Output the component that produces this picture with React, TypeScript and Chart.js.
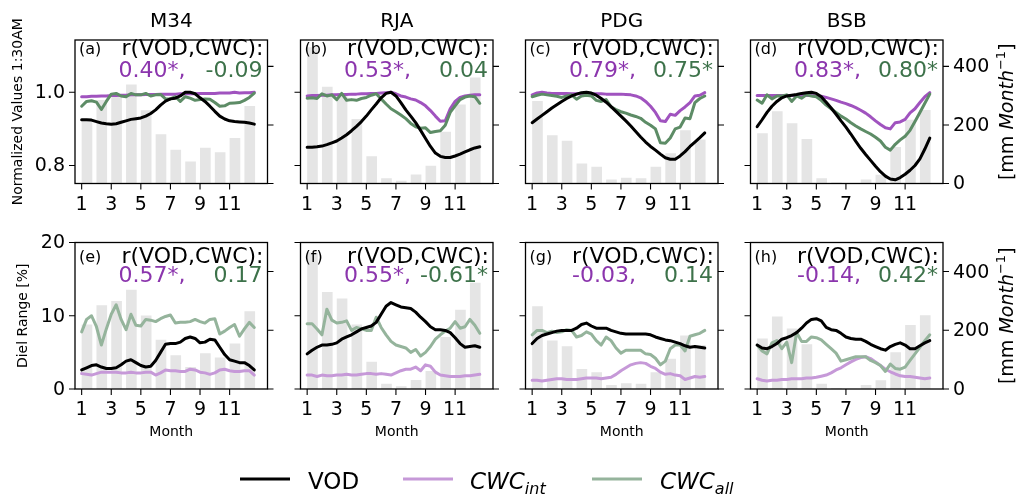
import React, { useEffect, useRef } from 'react';
import { Chart, registerables } from 'chart.js';

Chart.register(...registerables);

// ---- figure geometry -------------------------------------------------------
const W = 1020;
const H = 499;
const COL_LEFT = [75, 300.5, 525.5, 750.5];
const PANEL_W = 192.5;
const ROW_TOP = [40, 242.5];
const ROW_BOTTOM = [183.5, 389];

const X_MIN = 0.55;
const X_MAX = 13.56;
const NORM_MIN = 0.7508;
const NORM_MAX = 1.1429;
const DIEL_MIN = 0;
const DIEL_MAX = 20;
const PRECIP_MAX = [490, 499];

// ---- styling ----------------------------------------------------------------
const FAMILY = '"DejaVu Sans", "Liberation Sans", sans-serif';
const INK = '#000000';
const BAR_COLOR = '#e5e5e5';
const BAR_W = 0.72;
const LINE_W = 3.0;
const FRAME_W = 1.3;
const TICK_LEN = 6;
const TICK_W = 1.1;
const TOP_COLORS = { vod: '#000000', cwcInt: '#a053bf', cwcAll: '#5d8c66' };
const DIEL_COLORS = { vod: '#000000', cwcInt: '#c699d8', cwcAll: '#95b49c' };
const TEXT_PURPLE = '#8b35ad';
const TEXT_GREEN = '#3d724a';

const TITLE_SIZE = 20;
const TICK_SIZE = 19;
const ANNOT_SIZE = 22;
const LETTER_SIZE = 16;
const AXIS_LABEL_SIZE = 14;
const RIGHT_LABEL_SIZE = 19;
const LEGEND_SIZE = 23;

// ---- data -------------------------------------------------------------------
const SITES = ['M34', 'RJA', 'PDG', 'BSB'];
const LETTERS_NORM = ['(a)', '(b)', '(c)', '(d)'];
const LETTERS_DIEL = ['(e)', '(f)', '(g)', '(h)'];
const MONTH_TICKS = [1, 3, 5, 7, 9, 11];
const NORM_TICKS = [0.8, 1.0];
const DIEL_TICKS = [0, 10, 20];
const PRECIP_TICKS = [0, 200, 400];

const BAR_MONTHS = [1, 2, 3, 4, 5, 6, 7, 8, 9, 10, 11, 12];
const DEKAD_MONTHS = [
  1, 1.333, 1.667, 2, 2.333, 2.667, 3, 3.333, 3.667, 4, 4.333, 4.667,
  5, 5.333, 5.667, 6, 6.333, 6.667, 7, 7.333, 7.667, 8, 8.333, 8.667,
  9, 9.333, 9.667, 10, 10.333, 10.667, 11, 11.333, 11.667, 12, 12.333, 12.667,
];

// monthly precipitation [mm month^-1]
const PRECIP_M34 = [220, 285, 300, 338, 250, 168, 115, 75, 122, 107, 155, 265];
const PRECIP_RJA = [465, 330, 308, 220, 93, 18, 9, 31, 61, 177, 270, 362];
const PRECIP_PDG = [282, 165, 146, 68, 57, 14, 20, 18, 57, 103, 182, 150];
const PRECIP_BSB = [172, 247, 206, 152, 18, 3, 1, 14, 30, 125, 218, 251];

// normalized values at 1:30AM
const VOD_NORM_M34 = [0.925, 0.925, 0.924, 0.920, 0.916, 0.914, 0.913, 0.914, 0.918, 0.922, 0.926, 0.928, 0.930, 0.935, 0.942, 0.952, 0.965, 0.976, 0.982, 0.984, 0.990, 1.000, 1.000, 0.996, 0.985, 0.975, 0.962, 0.948, 0.935, 0.927, 0.922, 0.920, 0.919, 0.918, 0.916, 0.913];
const CWC_INT_NORM_M34 = [0.988, 0.988, 0.989, 0.989, 0.990, 0.990, 0.991, 0.991, 0.992, 0.992, 0.993, 0.993, 0.993, 0.994, 0.994, 0.994, 0.995, 0.995, 0.995, 0.995, 0.996, 0.996, 0.996, 0.996, 0.997, 0.997, 0.997, 0.997, 0.998, 0.998, 0.998, 1.000, 0.998, 0.999, 0.999, 1.000];
const CWC_ALL_NORM_M34 = [0.962, 0.975, 0.977, 0.973, 0.953, 0.975, 0.995, 0.997, 0.990, 0.988, 0.997, 0.993, 0.993, 0.997, 0.990, 0.993, 0.994, 0.982, 0.982, 0.988, 0.975, 0.988, 0.984, 0.978, 0.980, 0.982, 0.981, 0.972, 0.962, 0.963, 0.970, 0.971, 0.972, 0.978, 0.986, 0.998];

const VOD_NORM_RJA = [0.850, 0.850, 0.851, 0.853, 0.857, 0.862, 0.867, 0.875, 0.884, 0.895, 0.907, 0.920, 0.935, 0.952, 0.968, 0.985, 0.997, 1.000, 0.990, 0.972, 0.952, 0.935, 0.917, 0.896, 0.874, 0.852, 0.834, 0.825, 0.822, 0.822, 0.826, 0.831, 0.837, 0.843, 0.848, 0.851];
const CWC_INT_NORM_RJA = [0.990, 0.991, 0.991, 0.992, 0.992, 0.993, 0.993, 0.994, 0.994, 0.995, 0.995, 0.996, 0.996, 0.997, 0.997, 0.998, 0.999, 1.000, 0.996, 0.990, 0.987, 0.982, 0.979, 0.972, 0.963, 0.950, 0.935, 0.921, 0.922, 0.955, 0.975, 0.986, 0.990, 0.992, 0.993, 0.993];
const CWC_ALL_NORM_RJA = [0.984, 0.985, 0.983, 0.996, 0.990, 0.993, 0.980, 0.997, 0.978, 0.980, 0.978, 0.983, 0.986, 0.992, 0.996, 0.982, 0.968, 0.955, 0.947, 0.938, 0.928, 0.915, 0.906, 0.902, 0.903, 0.890, 0.893, 0.895, 0.910, 0.945, 0.963, 0.980, 0.987, 0.990, 0.988, 0.970];

const VOD_NORM_PDG = [0.917, 0.927, 0.937, 0.947, 0.957, 0.966, 0.975, 0.983, 0.990, 0.995, 0.999, 1.000, 0.998, 0.992, 0.983, 0.973, 0.961, 0.948, 0.935, 0.922, 0.908, 0.893, 0.878, 0.864, 0.852, 0.842, 0.831, 0.821, 0.817, 0.817, 0.826, 0.838, 0.852, 0.864, 0.876, 0.889];
const CWC_INT_NORM_PDG = [0.993, 0.998, 1.000, 0.998, 0.997, 0.997, 0.997, 0.997, 0.996, 0.996, 0.996, 0.996, 0.996, 0.996, 0.996, 0.995, 0.995, 0.995, 0.995, 0.994, 0.993, 0.990, 0.985, 0.975, 0.962, 0.945, 0.922, 0.920, 0.940, 0.937, 0.950, 0.960, 0.972, 0.990, 0.992, 0.999];
const CWC_ALL_NORM_PDG = [0.988, 0.992, 0.995, 0.993, 0.991, 0.989, 0.986, 0.990, 0.993, 0.981, 0.990, 0.992, 0.990, 0.978, 0.975, 0.980, 0.960, 0.953, 0.947, 0.943, 0.938, 0.934, 0.929, 0.918, 0.910, 0.900, 0.862, 0.861, 0.875, 0.900, 0.905, 0.930, 0.928, 0.972, 0.983, 0.990];

const VOD_NORM_BSB = [0.906, 0.925, 0.945, 0.962, 0.975, 0.985, 0.990, 0.992, 0.994, 0.997, 0.999, 1.000, 0.997, 0.988, 0.973, 0.957, 0.940, 0.922, 0.905, 0.886, 0.866, 0.847, 0.830, 0.814, 0.798, 0.783, 0.771, 0.763, 0.761, 0.767, 0.776, 0.787, 0.800, 0.818, 0.845, 0.875];
const CWC_INT_NORM_BSB = [0.991, 0.991, 0.991, 0.991, 0.991, 0.991, 0.991, 0.991, 0.991, 0.991, 0.991, 0.991, 0.990, 0.989, 0.986, 0.982, 0.978, 0.973, 0.969, 0.964, 0.958, 0.951, 0.943, 0.933, 0.922, 0.912, 0.903, 0.900, 0.917, 0.919, 0.926, 0.944, 0.955, 0.972, 0.988, 0.999];
const CWC_ALL_NORM_BSB = [0.979, 0.970, 0.993, 0.982, 0.990, 0.990, 0.993, 0.975, 0.990, 0.984, 0.993, 0.990, 0.988, 0.978, 0.965, 0.955, 0.945, 0.935, 0.927, 0.917, 0.908, 0.900, 0.893, 0.886, 0.877, 0.867, 0.850, 0.842, 0.858, 0.870, 0.880, 0.896, 0.920, 0.945, 0.970, 0.995];

// diel range [%]
const VOD_DIEL_M34 = [2.6, 2.9, 3.2, 3.3, 3.0, 2.8, 2.8, 2.9, 3.3, 3.8, 4.0, 3.6, 3.2, 3.0, 3.1, 3.9, 5.0, 6.1, 6.2, 6.2, 6.4, 6.9, 7.1, 6.9, 6.3, 6.4, 6.8, 6.7, 5.7, 4.7, 4.0, 3.8, 3.6, 3.6, 3.2, 2.6];
const CWC_INT_DIEL_M34 = [2.1, 2.0, 1.9, 2.1, 2.3, 2.3, 2.3, 2.3, 2.2, 2.2, 2.3, 2.2, 2.2, 2.3, 2.3, 1.9, 2.2, 2.6, 2.5, 2.5, 2.4, 2.4, 2.7, 2.6, 2.3, 2.2, 2.0, 2.2, 2.6, 2.7, 2.5, 2.4, 2.4, 2.5, 2.5, 1.9];
const CWC_ALL_DIEL_M34 = [7.8, 9.5, 10.0, 8.5, 6.0, 8.2, 10.2, 11.5, 9.5, 8.1, 10.2, 8.7, 8.6, 9.5, 9.4, 9.2, 9.6, 9.9, 10.1, 9.0, 9.1, 9.1, 9.2, 9.5, 9.2, 9.0, 9.5, 9.6, 7.5, 7.9, 8.4, 8.8, 7.2, 8.2, 9.1, 8.4];

const VOD_DIEL_RJA = [4.8, 5.3, 5.7, 6.0, 6.0, 6.1, 6.3, 6.8, 7.1, 7.4, 7.8, 8.2, 8.4, 8.6, 9.1, 10.2, 11.3, 11.8, 11.5, 11.2, 11.1, 11.0, 10.5, 9.8, 9.2, 8.5, 8.1, 8.1, 8.0, 7.7, 7.0, 6.2, 5.7, 5.8, 5.9, 5.7];
const CWC_INT_DIEL_RJA = [1.9, 1.9, 1.7, 1.9, 1.8, 1.8, 1.9, 1.9, 2.0, 1.9, 1.9, 2.0, 2.1, 2.1, 2.0, 2.1, 2.0, 1.9, 2.2, 2.5, 2.7, 2.7, 3.0, 2.5, 3.3, 3.1, 2.3, 1.9, 1.8, 1.7, 1.7, 1.7, 1.8, 1.8, 1.9, 2.0];
const CWC_ALL_DIEL_RJA = [8.9, 8.9, 8.2, 7.4, 10.9, 9.4, 9.0, 9.1, 9.3, 8.0, 8.4, 8.2, 8.0, 8.0, 9.8, 8.4, 7.4, 6.5, 6.0, 5.8, 5.6, 5.0, 5.4, 4.5, 5.0, 5.8, 6.8, 7.4, 7.9, 8.3, 9.2, 8.3, 8.5, 9.5, 8.7, 7.6];

const VOD_DIEL_PDG = [6.2, 6.9, 7.3, 7.5, 7.7, 7.9, 8.0, 8.0, 8.0, 8.3, 8.8, 9.0, 8.6, 8.3, 8.3, 8.3, 8.0, 7.8, 7.6, 7.5, 7.5, 7.5, 7.5, 7.5, 7.4, 7.1, 6.9, 6.7, 6.6, 6.4, 6.2, 5.9, 5.7, 5.8, 5.7, 5.6];
const CWC_INT_DIEL_PDG = [1.2, 1.2, 1.1, 1.2, 1.3, 1.4, 1.4, 1.3, 1.3, 1.3, 1.4, 1.5, 1.5, 1.5, 1.4, 1.5, 1.6, 2.0, 2.5, 2.9, 3.3, 3.5, 3.6, 3.5, 3.1, 2.8, 2.3, 2.0, 2.1, 1.9, 1.8, 1.3, 1.5, 1.7, 1.6, 1.7];
const CWC_ALL_DIEL_PDG = [7.4, 8.0, 8.0, 7.7, 7.9, 7.7, 7.8, 8.1, 8.0, 7.1, 7.3, 7.8, 7.5, 6.6, 6.0, 7.1, 6.6, 5.6, 4.9, 5.3, 5.3, 5.3, 5.3, 4.8, 4.7, 4.2, 3.3, 3.8, 5.5, 6.0, 6.0, 5.2, 7.2, 7.4, 7.6, 8.0];

const VOD_DIEL_BSB = [6.0, 5.6, 5.5, 5.8, 6.2, 6.8, 7.0, 7.3, 7.7, 8.3, 9.0, 9.5, 9.6, 9.3, 8.4, 8.1, 8.0, 7.6, 7.1, 6.9, 6.8, 6.8, 6.5, 6.1, 5.8, 5.5, 5.3, 5.8, 6.1, 6.3, 6.0, 5.5, 5.5, 5.9, 6.3, 6.6];
const CWC_INT_DIEL_BSB = [1.4, 1.2, 1.1, 1.2, 1.2, 1.3, 1.3, 1.4, 1.4, 1.4, 1.5, 1.5, 1.6, 1.75, 1.9, 2.2, 2.6, 2.9, 3.3, 3.7, 4.05, 4.3, 4.4, 4.15, 3.7, 3.2, 2.7, 2.35, 2.05, 1.8, 1.7, 1.7, 1.6, 1.5, 1.4, 1.5];
const CWC_ALL_DIEL_BSB = [6.0, 5.2, 4.8, 6.3, 6.6, 5.5, 6.4, 3.6, 7.7, 6.5, 6.5, 7.1, 7.0, 6.7, 6.1, 5.5, 4.9, 3.8, 4.0, 4.2, 4.4, 4.4, 4.4, 3.9, 3.6, 3.2, 2.4, 3.4, 2.8, 2.7, 3.0, 3.9, 4.8, 5.7, 6.6, 7.4];

// correlation labels r(VOD, CWC_int) and r(VOD, CWC_all)
const R_INT_NORM = ['0.40*,', '0.53*,', '0.79*,', '0.83*,'];
const R_ALL_NORM = ['-0.09', '0.04', '0.75*', '0.80*'];
const R_INT_DIEL = ['0.57*,', '0.55*,', '-0.03,', '-0.14,'];
const R_ALL_DIEL = ['0.17', '-0.61*', '0.14', '0.42*'];

const PRECIP = [PRECIP_M34, PRECIP_RJA, PRECIP_PDG, PRECIP_BSB];
const VOD_NORM = [VOD_NORM_M34, VOD_NORM_RJA, VOD_NORM_PDG, VOD_NORM_BSB];
const CWC_INT_NORM = [CWC_INT_NORM_M34, CWC_INT_NORM_RJA, CWC_INT_NORM_PDG, CWC_INT_NORM_BSB];
const CWC_ALL_NORM = [CWC_ALL_NORM_M34, CWC_ALL_NORM_RJA, CWC_ALL_NORM_PDG, CWC_ALL_NORM_BSB];
const VOD_DIEL = [VOD_DIEL_M34, VOD_DIEL_RJA, VOD_DIEL_PDG, VOD_DIEL_BSB];
const CWC_INT_DIEL = [CWC_INT_DIEL_M34, CWC_INT_DIEL_RJA, CWC_INT_DIEL_PDG, CWC_INT_DIEL_BSB];
const CWC_ALL_DIEL = [CWC_ALL_DIEL_M34, CWC_ALL_DIEL_RJA, CWC_ALL_DIEL_PDG, CWC_ALL_DIEL_BSB];

type PanelSpec = {
  row: number;
  col: number;
  site: string;
  letter: string;
  vod: number[];
  cwcInt: number[];
  cwcAll: number[];
  precip: number[];
  rInt: string;
  rAll: string;
};

const PANELS: PanelSpec[] = [];
for (let row = 0; row < 2; row++) {
  for (let col = 0; col < 4; col++) {
    PANELS.push({
      row,
      col,
      site: SITES[col],
      letter: row === 0 ? LETTERS_NORM[col] : LETTERS_DIEL[col],
      vod: row === 0 ? VOD_NORM[col] : VOD_DIEL[col],
      cwcInt: row === 0 ? CWC_INT_NORM[col] : CWC_INT_DIEL[col],
      cwcAll: row === 0 ? CWC_ALL_NORM[col] : CWC_ALL_DIEL[col],
      precip: PRECIP[col],
      rInt: row === 0 ? R_INT_NORM[col] : R_INT_DIEL[col],
      rAll: row === 0 ? R_ALL_NORM[col] : R_ALL_DIEL[col],
    });
  }
}

const font = (size: number, style = '') => `${style} ${size}px ${FAMILY}`.trim();

type Run = { t: string; size: number; italic?: boolean; rise?: number };

// draws a sequence of text runs at (x, y), optionally rotated
function drawRuns(ctx: CanvasRenderingContext2D, runs: Run[], x: number, y: number, angle: number, align: 'center' | 'left') {
  ctx.save();
  ctx.translate(x, y);
  if (angle) ctx.rotate(angle);
  ctx.textAlign = 'left';
  ctx.textBaseline = 'alphabetic';
  let total = 0;
  for (const r of runs) {
    ctx.font = font(r.size, r.italic ? 'italic' : '');
    total += ctx.measureText(r.t).width;
  }
  let cx = align === 'center' ? -total / 2 : 0;
  for (const r of runs) {
    ctx.font = font(r.size, r.italic ? 'italic' : '');
    ctx.fillText(r.t, cx, -(r.rise || 0));
    cx += ctx.measureText(r.t).width;
  }
  ctx.restore();
}

const panelDecor = {
  id: 'panelDecor',
  afterDraw(chart: any, _args: any, o: any) {
    const ctx: CanvasRenderingContext2D = chart.ctx;
    const a = chart.chartArea;
    const sx = chart.scales.x;
    const sy = chart.scales.y;
    const sy1 = chart.scales.y1;
    const row: number = o.row;
    const col: number = o.col;
    const leftTicks = row === 0 ? NORM_TICKS : DIEL_TICKS;
    const midX = (a.left + a.right) / 2;
    const midY = (a.top + a.bottom) / 2;

    ctx.save();
    // axes frame
    ctx.strokeStyle = INK;
    ctx.lineWidth = FRAME_W;
    ctx.strokeRect(a.left, a.top, a.right - a.left, a.bottom - a.top);

    // tick marks
    ctx.lineWidth = TICK_W;
    ctx.beginPath();
    for (const m of MONTH_TICKS) {
      const px = sx.getPixelForValue(m);
      ctx.moveTo(px, a.bottom);
      ctx.lineTo(px, a.bottom + TICK_LEN);
    }
    for (const v of leftTicks) {
      const py = sy.getPixelForValue(v);
      ctx.moveTo(a.left - TICK_LEN, py);
      ctx.lineTo(a.left, py);
    }
    for (const v of PRECIP_TICKS) {
      const py = sy1.getPixelForValue(v);
      ctx.moveTo(a.right, py);
      ctx.lineTo(a.right + TICK_LEN, py);
    }
    ctx.stroke();

    // tick labels
    ctx.fillStyle = INK;
    ctx.font = font(TICK_SIZE);
    ctx.textAlign = 'center';
    ctx.textBaseline = 'alphabetic';
    for (const m of MONTH_TICKS) {
      ctx.fillText(String(m), sx.getPixelForValue(m), a.bottom + 26);
    }
    ctx.textBaseline = 'middle';
    if (col === 0) {
      ctx.textAlign = 'right';
      for (const v of leftTicks) {
        const lbl = row === 0 ? v.toFixed(1) : String(v);
        ctx.fillText(lbl, a.left - TICK_LEN - 4, sy.getPixelForValue(v) + 1);
      }
    }
    if (col === 3) {
      ctx.textAlign = 'left';
      for (const v of PRECIP_TICKS) {
        ctx.fillText(String(v), a.right + TICK_LEN + 4, sy1.getPixelForValue(v) + 1);
      }
    }

    // titles and axis labels
    ctx.textBaseline = 'alphabetic';
    if (row === 0) {
      ctx.textAlign = 'center';
      ctx.font = font(TITLE_SIZE);
      ctx.fillText(o.site, midX, a.top - 13);
    } else {
      ctx.textAlign = 'center';
      ctx.font = font(AXIS_LABEL_SIZE);
      ctx.fillText('Month', midX, a.bottom + 47);
    }
    if (col === 0) {
      const label = row === 0 ? 'Normalized Values 1:30AM' : 'Diel Range [%]';
      const bx = row === 0 ? 21.5 : 27;
      drawRuns(ctx, [{ t: label, size: AXIS_LABEL_SIZE }], bx, midY, -Math.PI / 2, 'center');
    }
    if (col === 3) {
      drawRuns(
        ctx,
        [
          { t: '[mm ', size: RIGHT_LABEL_SIZE },
          { t: 'Month', size: RIGHT_LABEL_SIZE, italic: true },
          { t: '\u22121', size: 13, rise: 8 },
          { t: ']', size: RIGHT_LABEL_SIZE },
        ],
        1013,
        midY,
        -Math.PI / 2,
        'center',
      );
    }

    // panel letter and correlation annotation
    const base1 = row === 0 ? a.top + 15 : a.top + 20;
    const base2 = row === 0 ? a.top + 36.5 : a.top + 39.5;
    ctx.font = font(LETTER_SIZE);
    ctx.textAlign = 'left';
    ctx.fillStyle = INK;
    ctx.fillText(o.letter, a.left + 4, base1 - 1);
    ctx.font = font(ANNOT_SIZE);
    ctx.textAlign = 'right';
    ctx.fillText('r(VOD,CWC):', a.right - 4, base1);
    ctx.fillStyle = TEXT_PURPLE;
    ctx.fillText(o.rInt, a.right - 82, base2);
    ctx.fillStyle = TEXT_GREEN;
    ctx.fillText(o.rAll, a.right - 5, base2);

    // figure legend
    if (o.legend) {
      const ly = 479;
      const items = [
        { color: DIEL_COLORS.vod, x0: 240, x1: 290, tx: 308, runs: [{ t: 'VOD', size: LEGEND_SIZE }] },
        { color: DIEL_COLORS.cwcInt, x0: 403, x1: 453, tx: 470, runs: [{ t: 'CWC', size: LEGEND_SIZE, italic: true }, { t: 'int', size: 16, italic: true, rise: -5 }] },
        { color: DIEL_COLORS.cwcAll, x0: 592, x1: 642, tx: 660, runs: [{ t: 'CWC', size: LEGEND_SIZE, italic: true }, { t: 'all', size: 16, italic: true, rise: -5 }] },
      ];
      for (const it of items) {
        ctx.strokeStyle = it.color;
        ctx.lineWidth = 3.2;
        ctx.beginPath();
        ctx.moveTo(it.x0, ly);
        ctx.lineTo(it.x1, ly);
        ctx.stroke();
        ctx.fillStyle = INK;
        drawRuns(ctx, it.runs, it.tx, 489, 0, 'left');
      }
    }
    ctx.restore();
  },
};

function Panel({ spec }: { spec: PanelSpec }) {
  const ref = useRef<HTMLCanvasElement>(null);

  useEffect(() => {
    const canvas = ref.current;
    if (!canvas) return;
    const { row, col } = spec;
    const left = COL_LEFT[col];
    const right = left + PANEL_W;
    const top = ROW_TOP[row];
    const bottom = ROW_BOTTOM[row];
    const pal = row === 0 ? TOP_COLORS : DIEL_COLORS;
    const points = (ys: number[]) => ys.map((y, i) => ({ x: DEKAD_MONTHS[i], y }));
    const lineStyle = {
      type: 'line' as const,
      yAxisID: 'y',
      borderWidth: LINE_W,
      pointRadius: 0,
      tension: 0,
      fill: false,
      borderJoinStyle: 'round' as const,
      borderCapStyle: 'round' as const,
    };

    const chart = new Chart(canvas, {
      type: 'line',
      data: {
        datasets: [
          { ...lineStyle, label: 'VOD', data: points(spec.vod), borderColor: pal.vod, order: 0 },
          { ...lineStyle, label: 'CWC_all', data: points(spec.cwcAll), borderColor: pal.cwcAll, order: 1 },
          { ...lineStyle, label: 'CWC_int', data: points(spec.cwcInt), borderColor: pal.cwcInt, order: 2 },
          {
            type: 'bar',
            label: 'Precipitation',
            yAxisID: 'y1',
            data: spec.precip.map((p, i) => ({ x: BAR_MONTHS[i] + BAR_W / 2, y: p })),
            backgroundColor: BAR_COLOR,
            borderWidth: 0,
            categoryPercentage: BAR_W,
            barPercentage: 1,
            order: 3,
          } as any,
        ],
      },
      options: {
        responsive: false,
        animation: false,
        events: [],
        layout: { padding: { left, top, right: W - right, bottom: H - bottom } },
        plugins: {
          legend: { display: false },
          tooltip: { enabled: false },
          panelDecor: {
            row,
            col,
            site: spec.site,
            letter: spec.letter,
            rInt: spec.rInt,
            rAll: spec.rAll,
            legend: row === 1 && col === 3,
          },
        } as any,
        scales: {
          x: { type: 'linear', min: X_MIN, max: X_MAX, offset: false, display: false },
          y: {
            type: 'linear',
            min: row === 0 ? NORM_MIN : DIEL_MIN,
            max: row === 0 ? NORM_MAX : DIEL_MAX,
            display: false,
          },
          y1: { type: 'linear', position: 'right', min: 0, max: PRECIP_MAX[row], display: false },
        },
      },
      plugins: [panelDecor],
    });
    return () => chart.destroy();
  }, [spec]);

  return (
    <canvas
      ref={ref}
      width={W}
      height={H}
      style={{ position: 'absolute', left: 0, top: 0, width: W, height: H }}
    />
  );
}

export default function App() {
  return (
    <div style={{ position: 'absolute', left: 0, top: 0, width: W, height: H, background: '#ffffff', overflow: 'hidden' }}>
      {PANELS.map((p) => (
        <Panel key={`${p.row}-${p.col}`} spec={p} />
      ))}
    </div>
  );
}
